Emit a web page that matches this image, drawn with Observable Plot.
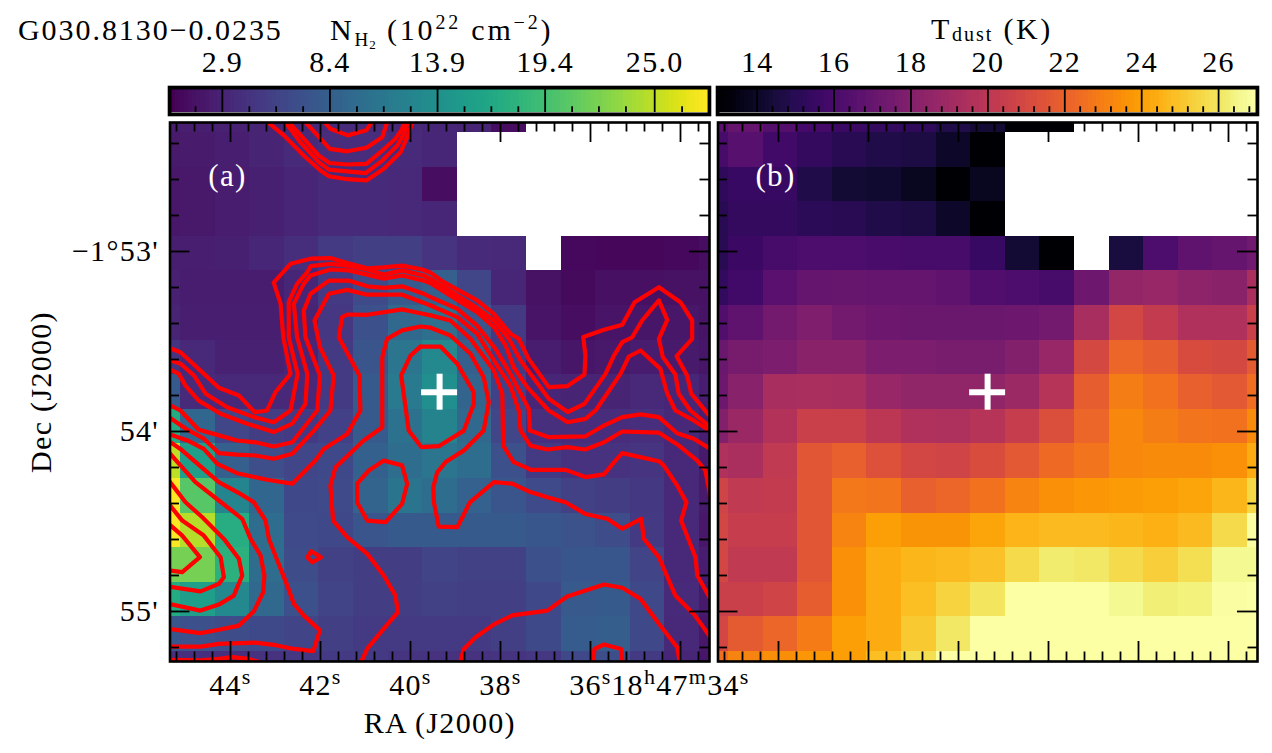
<!DOCTYPE html>
<html><head><meta charset="utf-8">
<script src="https://cdn.jsdelivr.net/npm/d3@7"></script>
<script src="https://cdn.jsdelivr.net/npm/@observablehq/plot@0.6"></script>
<style>
html,body{margin:0;padding:0;background:#fff}
#page{position:relative;width:1272px;height:753px;overflow:hidden;font-family:"Liberation Serif",serif;color:#000}
#page svg{position:absolute;overflow:visible;background:transparent;max-width:none}
.t{position:absolute;white-space:nowrap;font-size:30px;line-height:30px;letter-spacing:1.95px}
.sub{font-size:19px;line-height:14px;display:inline-block;position:relative;top:6px;letter-spacing:1px}
.subd{font-size:20px;line-height:14px;display:inline-block;position:relative;top:2px;letter-spacing:2px}
.subsub{font-size:13px;line-height:10px;display:inline-block;position:relative;top:3px}
.sup{font-size:20px;line-height:14px;display:inline-block;position:relative;top:-11px}
</style></head><body><div id="page">
<div class="t" style="left:18px;top:15px">G030.8130−0.0235</div>
<div class="t" style="left:330px;top:15px;letter-spacing:2.8px">N<span class="sub">H<span class="subsub">2</span></span> (10<span class="sup">22</span> cm<span class="sup">−2</span>)</div>
<div class="t" style="left:931px;top:14px;letter-spacing:2.6px">T<span class="subd">dust</span> (K)</div>
</div>
<script>
// ---- N(H2) map, 10^22 cm^-2, rows north to south, columns east to west
const nh2Rows = [
 [2.4,2.6,2.8,3.0,3.3,3.6,3.6,3.4,3.2,3.0,1.2,null,null,null,null,null,null],
 [2.2,2.3,2.6,3.0,3.6,3.8,3.8,3.6,3.2,null,null,null,null,null,null,null,null],
 [2.0,2.1,2.5,2.7,3.1,3.6,3.6,3.4,1.2,null,null,null,null,null,null,null,null],
 [2.0,2.1,2.4,2.7,3.1,3.6,3.6,3.4,3.2,null,null,null,null,null,null,null,null],
 [2.6,2.6,2.7,3.2,3.9,5.0,5.4,5.4,4.4,3.6,3.4,null,0.9,0.8,0.8,0.9,1.2],
 [2.8,2.4,2.4,2.4,3.2,4.8,6.5,8.0,8.5,6.0,3.2,1.5,1.0,1.4,1.4,1.5,1.5],
 [3.0,2.6,2.6,2.6,3.0,4.6,7.0,9.5,10.2,7.5,4.8,1.7,1.2,1.7,1.8,2.0,1.6],
 [4.5,3.4,2.8,2.8,3.2,4.8,7.5,11.0,13.2,8.5,5.0,2.4,1.8,2.1,2.4,2.2,1.8],
 [8.0,3.6,3.4,3.4,3.4,5.0,8.0,11.5,13.8,9.0,5.5,3.2,3.0,3.0,3.4,3.2,2.4],
 [17.0,9.2,6.0,5.2,4.8,5.5,8.0,10.5,12.6,9.5,6.0,4.0,3.8,3.8,4.0,3.4,2.6],
 [25.0,15.5,8.5,6.8,6.0,6.2,8.6,10.0,11.0,10.0,7.0,5.0,4.2,4.2,4.4,3.4,2.2],
 [27.7,20.5,12.8,9.2,6.2,6.5,9.0,10.8,10.0,8.7,7.4,6.5,5.6,5.2,4.7,3.4,2.2],
 [27.5,24.6,17.4,10.0,6.5,6.2,7.4,8.0,8.0,8.0,8.0,7.6,7.2,6.6,5.0,3.4,2.0],
 [22.0,22.0,17.8,10.0,6.6,5.6,5.2,5.2,5.8,5.6,5.6,7.0,7.6,7.6,5.8,3.4,2.4],
 [17.0,15.5,13.2,9.4,7.0,5.8,5.2,5.2,5.6,5.4,5.4,6.2,7.8,8.0,6.2,3.6,2.2],
 [7.6,7.0,6.6,6.3,5.8,5.4,5.0,5.0,5.0,5.0,5.4,6.3,8.2,8.4,6.2,3.4,2.0],
 [4.0,4.0,4.0,4.2,4.6,5.0,5.0,4.4,4.2,4.2,4.4,4.6,6.2,6.8,5.0,3.2,1.8]
];
// ---- dust temperature map, K
const tdustRows = [
 [16.6,17.0,16.4,15.9,15.6,15.4,15.2,14.8,14.3,13.0,13.0,null,null,null,null,null,null],
 [16.0,16.5,15.8,15.4,15.0,14.8,14.6,14.0,13.0,null,null,null,null,null,null,null,null],
 [15.2,15.5,15.5,14.7,14.3,14.2,13.8,13.0,13.8,null,null,null,null,null,null,null,null],
 [15.0,15.4,15.4,15.1,15.0,14.7,14.6,14.0,13.0,null,null,null,null,null,null,null,null],
 [15.0,15.6,16.0,16.2,16.2,16.1,16.0,16.0,15.5,14.3,13.0,null,14.5,16.2,16.8,17.0,17.4],
 [15.3,15.8,16.6,17.0,17.1,17.0,17.0,16.8,16.3,16.2,16.0,17.3,18.6,18.7,18.4,18.3,19.4],
 [16.3,16.8,17.5,17.9,17.5,17.3,17.2,17.2,17.2,17.3,17.5,19.3,20.9,20.3,19.6,19.6,20.6],
 [17.2,17.6,17.8,18.3,18.3,17.8,17.8,17.7,17.7,18.0,18.7,21.0,22.2,21.9,21.1,21.0,21.8],
 [17.3,18.2,19.3,19.4,19.3,18.7,18.5,18.5,18.5,18.9,19.8,21.9,23.0,22.6,22.0,21.7,22.5],
 [18.0,18.8,19.7,20.6,20.6,20.0,19.6,19.5,19.8,20.4,21.3,22.2,23.3,23.0,22.7,22.6,23.4],
 [19.6,19.4,20.2,21.6,22.0,21.4,20.9,20.8,21.2,21.7,22.4,22.7,23.3,23.4,23.4,23.6,24.4],
 [20.8,20.2,20.3,21.6,22.8,22.7,22.0,22.2,22.6,23.2,23.6,23.8,23.9,24.0,24.2,24.7,25.6],
 [20.9,20.4,20.4,21.6,23.2,24.0,23.7,23.7,24.2,24.6,24.8,24.8,24.7,24.5,24.8,25.7,26.9],
 [20.9,20.2,20.2,21.6,23.6,24.4,24.7,24.8,25.0,25.7,26.2,26.1,25.7,25.4,25.8,26.7,26.7],
 [20.6,20.6,20.8,21.9,23.6,24.4,24.9,25.5,26.0,27.0,27.0,27.0,26.7,26.3,26.4,26.9,27.0],
 [20.9,21.8,22.2,22.9,24.0,24.4,25.2,26.1,27.0,27.0,27.0,27.0,27.0,27.0,27.0,27.0,27.0],
 [22.5,23.2,23.5,23.8,24.0,24.9,25.8,27.0,27.0,27.0,27.0,27.0,27.0,27.0,27.0,27.0,27.0]
];
// ---- colorbars
const nh2Ticks = [2.9,8.4,13.9,19.4,25.0];
const nh2Minor = [1.53,4.28,5.65,7.03,9.78,11.15,12.53,15.28,16.65,18.03,20.78,22.15,23.53,26.4];
const tdustTicks = [14,16,18,20,22,24,26];
const tdustMinor = [14.4,14.8,15.2,15.6,16.4,16.8,17.2,17.6,18.4,18.8,19.2,19.6,20.4,20.8,21.2,21.6,22.4,22.8,23.2,23.6,24.4,24.8,25.2,25.6,26.4,26.8];
// ---- sky axes: arcsec east of RA 18h47m34s, arcsec south of Dec -1 53'
const raMajor = [0,30,60,90,120,150];
const raLabels = ["18^h47^m34^s","36^s","38^s","40^s","42^s","44^s"];
const raMinor = [-6,6,12,18,24,36,42,48,54,66,72,78,84,96,102,108,114,126,132,138,144,156,162,168];
const decMajor = [0,60,120];
const decLabels = ["−1°53'","54'","55'"];
const decMinor = [-36,-24,-12,12,24,36,48,72,84,96,108,132];
const source = [80.3,46.9];
// ---- red contours, [arcsec E of 34s, arcsec S of -1 53']
const contourTop = [
 [[138.3,-43.7],[132.2,-38.7],[125.6,-32],[120,-27],[117.2,-25.1],[111.1,-24.1],[104.7,-23.7],[98.9,-27.6],[93.3,-33.1],[91.1,-38.1],[89.1,-43.7]],
 [[132.2,-43.7],[126.7,-36.4],[120.6,-29.8],[117.2,-27.3],[111.1,-26.7],[105,-26.1],[99.4,-30.3],[94.4,-35.3],[92.2,-39.2],[90.7,-43.7]],
 [[131.1,-43.7],[125.6,-37.6],[120.6,-32],[117,-29.5],[111.1,-29],[104.7,-29.2],[100,-33.1],[95,-37.6],[92.8,-40.9],[91.8,-43.7]],
 [[125.6,-43.7],[120,-37.6],[116.9,-34.2],[111.1,-33.4],[104.7,-34.6],[99.4,-38.1],[97.6,-43.7]],
 [[119.1,-43.7],[116.7,-40.9],[110.9,-38.7],[104.7,-40.4],[102.6,-43.7]]
];
const contourMain = [
 [[170.6,32.1],[166.7,33.6],[160,39.7],[153.9,45.4],[147.2,48],[141.9,53.6],[137.8,53],[135,46.9],[130,40.8],[132.4,28.6],[133.3,17.4],[135.6,10.4],[130,4.1],[123.3,2.4],[116.7,2.2],[111.1,3.8],[104.4,5.6],[98.9,5.3],[92.8,4.7],[86.1,6],[83.3,7.1],[78.9,10.2],[75,12.4],[67.8,16.3],[62.2,20.8],[56.7,27.4],[53.9,29.1],[50.6,35.8],[43.9,45.2],[37.8,44.9],[32,41],[31.7,34.7],[32.4,28.5],[25.5,26.1],[19.4,24.4],[15.3,16.9],[7.2,11.9],[0,16.9],[-3.9,23],[-3.9,29.1],[1.3,34.9],[-2.2,41.3],[-3.6,47.4],[-10,55.2]],
 [[170.6,36.1],[166.7,37.4],[162.2,41.3],[158.3,47.4],[151.1,51.9],[142.2,55.2],[135.6,56.9],[130,53],[127.6,40.8],[130.6,28.6],[130.6,16.9],[127.8,10.8],[124.4,6.9],[123.3,4.9],[116.7,4.1],[111.1,4.7],[104.4,6],[98.9,7.7],[92.8,6.3],[85.6,8],[83.3,9.1],[75,14.3],[67.8,18.8],[62.2,23],[57.2,29.1],[53.3,36.3],[43.9,49.1],[37.6,53.5],[32,50.8],[25,40.8],[22.2,34.7],[19.4,30.2],[16.1,28.6],[12.8,23],[7.2,16.3],[4.4,22.8],[7.2,29.1],[5.9,35.2],[1.7,41],[0.6,47.4],[-3.3,53],[-10,58.6]],
 [[170.6,39.1],[167.2,40.8],[165,44.7],[160.6,49.7],[153.3,54.1],[144.4,57.4],[135.6,60.2],[129.4,57.4],[125,50.8],[124.4,40.8],[127.8,28.6],[128.9,17.4],[125.6,10.8],[123.3,8],[116.7,6],[110.6,6.3],[104.4,7.7],[98.9,9.1],[92.8,8],[85.6,9.7],[83.3,10.6],[75,15.8],[67.8,20.2],[62.2,25.2],[58.3,31.3],[55.6,38.6],[51.1,45.2],[43.9,53],[37.6,56.9],[31.7,55.8],[28.3,53],[20,40.8],[17.2,35],[13.3,33],[6.7,39.1],[4.4,47.4],[1.7,53],[-4.4,56.3],[-10,59.9]],
 [[170.6,51],[166.7,53],[160.6,59.4],[155.6,60.8],[147.8,63],[141.7,63.6],[135.6,65],[129.4,63.6],[121.1,53],[120.2,41.3],[125,28.6],[125.6,19.7],[123.3,14.1],[117.2,9.7],[110.6,9.7],[104.4,11.6],[98.9,12.1],[92.8,11.6],[85.6,14.1],[83.3,15.2],[74.4,19.1],[67.8,24.7],[61.7,32.4],[56.7,40.8],[50.6,52.4],[50.2,59.7],[43.9,61.9],[31.7,61.6],[25.5,58],[19.4,55.2],[13.3,54.3],[7.2,55.2],[1.1,60.6],[-4.4,62.4],[-10,65.8]],
 [[170.6,55.2],[164.4,59.4],[158.9,62.4],[153.9,67.2],[147.8,67.7],[141.7,68],[135.6,69.1],[129.4,67.4],[122.2,59.7],[116.7,53],[115.6,41.3],[120.2,31.9],[122,23],[117.2,14.1],[111.1,12.8],[104.4,14.4],[92.8,14.4],[86.1,16.9],[83.3,18],[74.4,21.9],[67.8,27.4],[62.2,36.3],[56.7,44.7],[53.9,53],[53.3,59.7],[50,64.7],[44.4,66],[37.8,65.2],[31.7,66],[25.5,63.6],[19.4,60],[7.2,60.4],[0.5,64.7],[-5.6,69.7],[-8.3,73],[-10,81.9]],
 [[170.6,60.8],[164.4,63],[158.9,65.8],[154.4,70.8],[147.8,73.9],[137.8,76.1],[129.4,77.4],[121.7,69.7],[118.9,65.8],[111.1,60.8],[106.7,53],[107,41.3],[113.9,28.6],[112.8,21.9],[111.1,21],[104.4,21.1],[92.8,19.3],[86.7,20.6],[83.3,21.3],[76.7,23],[70,29.1],[62.2,39.7],[59.4,47.4],[59.1,64.7],[55.6,70.2],[50.6,72.4],[50,72.8],[38.3,72.8],[31.7,75.2],[25.5,74.3],[21.7,69.7],[19.4,67.2],[7.2,69.9],[5.6,71.3],[1.1,78],[-2,83.6],[-0.2,89.7],[-5,101.9],[-5.6,108],[-10,115.8]],
 [[106.7,137.4],[104.4,132.4],[99.4,126.3],[94.2,120.2],[95,114.7],[98.9,108],[104.4,100.8],[111.1,95.2],[115.8,89.7],[116.7,78],[115,71.9],[105.6,63],[99.4,58.6],[99.4,35.2],[97.8,29.1],[92.8,26.3],[86.7,25],[83.3,25.4],[76.7,28],[70,34.1],[65.6,41.9],[63.9,50.2],[65.6,59.7],[72.2,66.3],[78.3,70.2],[81.1,73.6],[82.4,78.6],[82.2,83.6],[80.6,91.7],[74.4,91.9],[70.2,83.6],[62.2,76.9],[56.1,77.4],[50,80.2],[44.4,81.9],[38.3,83.6],[31.7,87.5],[24.4,89.1],[19.4,92.4],[13.1,89.1],[12.2,95.8],[7.2,101.9],[1.7,114.7],[-4.4,120.8],[-10,128.6]],
 [[86.7,31.7],[90,34.7],[93.1,41.3],[90.6,59.7],[86.4,65.2],[80.6,64.9],[72.2,59.7],[68.9,50.8],[68.9,46.9],[74.4,37.4],[80,31.7],[86.7,31.7]]
];
const contourSmall = [
 [[107.8,77.4],[103.9,73],[98.9,69.7],[92.8,71.3],[91.1,77.4],[92.8,84.1],[98.3,90.2],[104.4,89.7],[107.8,83.6],[107.8,77.4]],
 [[124.4,101.9],[123.1,99.9],[119.8,101.9],[122.7,103.6],[124.4,101.9]]
];
const contourClump = [
 [[170.6,131.7],[160,131.7],[153.9,130.8],[141.7,130.4],[135.6,131.1],[129.4,132.4],[122.4,133.2],[120.2,126.3],[125.6,121.3],[128.9,117.4],[131.1,111.3],[134.4,103],[137.2,95.8],[138.3,89.7],[142.2,83.6],[146.7,80.8],[153.9,76.9],[162.2,69.7],[166.7,65.8],[170.6,63.2]],
 [[170.6,66.9],[166.7,71.3],[161.7,76.9],[153.9,83],[146.1,89.1],[143.3,95.8],[140,101.3],[138.7,108],[139.1,113.6],[142.2,119.9],[147.2,124.7],[153.9,126.1],[160,127.2],[170.6,125.8]],
 [[170.6,76.3],[165,83.6],[159.4,88.6],[152.2,95.8],[147.2,102.4],[146.1,108],[148.9,114.7],[153.9,117.7],[160,119.7],[170.6,117.4]],
 [[170.6,84.1],[166.1,89.7],[158.9,94.7],[153.3,101.9],[152.2,108.6],[153.9,110.8],[160,113.3],[170.6,111.7]],
 [[170.6,90.8],[166.1,94.7],[160.2,101.9],[166.1,106.9],[170.6,106.3]]
];
const contourSouth = [
 [[170.6,136.1],[160,136.3],[153.9,135.8],[149.4,135.2],[143.9,135.8],[140,137]],
 [[73.6,137.4],[72.2,132.5],[68.3,128.6],[62.2,124.3],[56.1,121.3],[44.4,119.7],[37.8,115],[25.5,111],[19.4,112.1],[13.3,115.8],[7.2,124.1],[1.1,131.9],[0.2,137.4]],
 [[29.1,137.4],[28.7,132.5],[25.5,131],[19.8,132.5],[19.3,137.4]]
];

const FONT = {fontFamily:'"Liberation Serif",serif',fontSize:"30px",letterSpacing:"1.3px",background:"transparent",overflow:"visible"};
const page = document.getElementById("page");
const X0 = 170.17, X1 = -9.67, Y0 = -43, Y1 = 136.67;
const PX = 1/3;            // one screen pixel in arcsec
const CELL = 34.6*PX;      // map pixel size, about 11.5 arcsec

function cellsOf(rows){
  const out = [];
  rows.forEach((row,r)=>row.forEach((v,c)=>{
    if(v===null) return;
    out.push({v, x1:166.67-(c-1)*CELL, x2:166.67-c*CELL, y1:-39.67+(r-1)*CELL, y2:-39.67+r*CELL});
  }));
  return out;
}
function tickMarks(){
  const s = {stroke:"#000",strokeWidth:1.8};
  const M = 20*PX, m = 9.5*PX;
  return [
    Plot.ruleX(raMajor,{y1:Y1,y2:Y1-M,...s}), Plot.ruleX(raMajor,{y1:Y0,y2:Y0+M,...s}),
    Plot.ruleX(raMinor,{y1:Y1,y2:Y1-m,...s}), Plot.ruleX(raMinor,{y1:Y0,y2:Y0+m,...s}),
    Plot.ruleY(decMajor,{x1:X0,x2:X0-M,...s}), Plot.ruleY(decMajor,{x1:X1,x2:X1+M,...s}),
    Plot.ruleY(decMinor,{x1:X0,x2:X0-m,...s}), Plot.ruleY(decMinor,{x1:X1,x2:X1+m,...s})
  ];
}
function crossMarks(){
  const s = {stroke:"#fff",strokeWidth:6};
  return [
    Plot.ruleX([source[0]],{y1:source[1]-6,y2:source[1]+6,...s}),
    Plot.ruleY([source[1]],{x1:source[0]+6,x2:source[0]-6,...s})
  ];
}
function place(svg,left,top){ svg.style.left=left+"px"; svg.style.top=top+"px"; page.appendChild(svg); return svg; }
function supify(svg){
  svg.querySelectorAll("text").forEach(t=>{
    if(!t.textContent.includes("^")) return;
    const parts = t.textContent.split(/(\^.)/).filter(s=>s);
    t.textContent = "";
    let up = false;
    parts.forEach(p=>{
      const ts = document.createElementNS("http://www.w3.org/2000/svg","tspan");
      if(p[0]==="^"){ ts.textContent=p[1]; ts.setAttribute("font-size","22"); ts.setAttribute("dy","-11"); up=true; }
      else { ts.textContent=p; if(up){ ts.setAttribute("dy","11"); up=false; } }
      t.appendChild(ts);
    });
  });
}
function colorbar(left,width,mL,mR,domain,scheme,majors,minors,fmt){
  const n = 128, bands = d3.range(n).map(i=>{
    const a = domain[0]+(domain[1]-domain[0])*i/n, b = domain[0]+(domain[1]-domain[0])*(i+1)/n;
    return {a,b,m:(a+b)/2};
  });
  const s = {stroke:"#000",strokeWidth:1.8};
  const svg = Plot.plot({
    width, height:118, marginLeft:mL, marginRight:mR, marginTop:89, marginBottom:6,
    style:FONT,
    x:{domain,axis:null}, y:{domain:[0,1],axis:null},
    color:{type:"linear",scheme,domain},
    marks:[
      Plot.rect(bands,{x1:"a",x2:"b",y1:0,y2:1,fill:"m",shapeRendering:"crispEdges"}),
      Plot.ruleX(majors,{y1:0,y2:1,...s}),
      Plot.ruleX(minors,{y1:0,y2:0.25,...s}),
      Plot.axisX(majors,{anchor:"top",tickSize:0,tickPadding:18,tickFormat:fmt,label:null}),
      Plot.frame({stroke:"#000",strokeWidth:3.8,inset:-1.9})
    ]
  });
  return place(svg,left,0);
}
function panel(left,width,mL,mR,rows,scheme,domain,withAxes,tag,contours){
  const lines = contours.flatMap((c,i)=>c.map(p=>({x:p[0],y:p[1],z:i})));
  const marks = [
    Plot.rect(cellsOf(rows),{x1:"x1",x2:"x2",y1:"y1",y2:"y2",fill:"v",clip:true,shapeRendering:"crispEdges"}),
  ];
  if(lines.length) marks.push(Plot.line(lines,{x:"x",y:"y",z:"z",stroke:"#ff0000",strokeWidth:4.2,strokeLinejoin:"round",clip:true}));
  marks.push(...tickMarks(),...crossMarks());
  marks.push(Plot.text([tag],{x:()=>151,y:()=>-25,text:d=>d,fill:"#fff",fontSize:31}));
  if(withAxes){
    marks.push(
      Plot.axisX(raMajor,{anchor:"bottom",tickSize:0,tickPadding:12,tickFormat:d=>raLabels[raMajor.indexOf(d)],label:"RA (J2000)",labelAnchor:"center",labelArrow:"none",labelOffset:71}),
      Plot.axisY(decMajor,{anchor:"left",tickSize:0,tickPadding:11,tickFormat:d=>decLabels[decMajor.indexOf(d)],label:"Dec (J2000)",labelAnchor:"center",labelArrow:"none",labelOffset:140})
    );
  }
  marks.push(Plot.frame({stroke:"#000",strokeWidth:2.6}));
  const svg = Plot.plot({
    width, height:635, marginLeft:mL, marginRight:mR, marginTop:4, marginBottom:92,
    style:FONT,
    x:{domain:[X0,X1],axis:null}, y:{domain:[Y1,Y0],axis:null},
    color:{type:"linear",scheme,domain},
    marks
  });
  supify(svg);
  return place(svg,left,118);
}
colorbar(0,712,171,5,[0.3,27.7],"viridis",nh2Ticks,nh2Minor,d=>d.toFixed(1));
colorbar(712,560,7,17,[13.02,26.96],"inferno",tdustTicks,tdustMinor,d=>String(d));
panel(0,712,169.5,3,nh2Rows,"viridis",[0.3,27.7],true,"(a)",[...contourTop,...contourMain,...contourSmall,...contourClump,...contourSouth]);
panel(712,560,5.5,15,tdustRows,"inferno",[13,27],false,"(b)",[]);
</script>
</body></html>
